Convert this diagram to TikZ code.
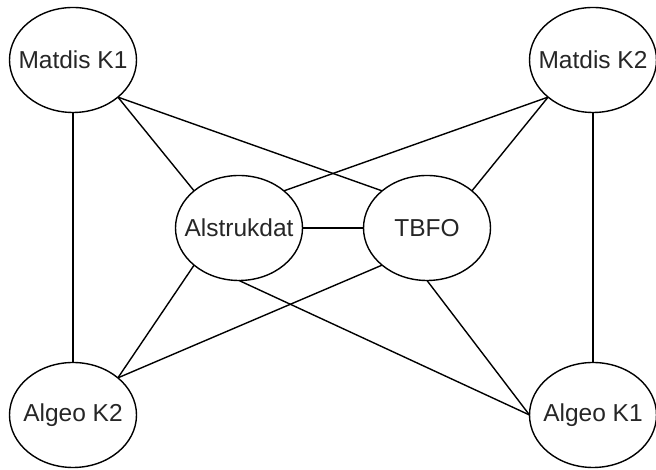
\documentclass[tikz,border=0pt]{standalone}
\usepackage{fontspec}
\setmainfont{Liberation Sans}
\usetikzlibrary{positioning,shapes.geometric}

\begin{document}
\begin{tikzpicture}[x=1pt,y=1pt,on grid,
    course/.style={ellipse,draw,line width=1.4pt,minimum width=127pt,minimum height=105pt,
        inner sep=0pt,outer sep=0pt,
        label={[font=\fontsize{24.5}{28}\selectfont,text=black!85]center:#1}}]
                \useasboundingbox (0,0) rectangle (656,470);
                \node[course=Matdis K1](mk1) at (73,410){};
                \node[course=Matdis K2](mk2)[right =520pt of mk1]{};
                \node[course=Algeo K2](ak2)[below =355pt of mk1]{};
                \node[course=Algeo K1](ak1)[below =355pt of mk2]{};
                \node[course=Alstrukdat](al)[below right =168pt and 166pt of mk1]{};
                \node[course=TBFO](tb)[right =188pt of al]{};
                \path[-,line width=1.4pt](mk1.south) edge node{}(ak2.north)
                        (mk1.south east) edge node{}(al.north west)
                            edge node{}(tb.north west)
                        (mk2.south) edge node{}(ak1.north)
                        (mk2.south west) edge node{}(al.north east)
                            edge node{}(tb.north east)
                        (al.east) edge node{}(tb.west)
                        (al.south west) edge node{}(ak2.north east)
                        (tb.south west) edge node{}(ak2.north east)
                        (al.south) edge node{}(ak1.west)
                        (tb.south) edge node{}(ak1.west);
            \end{tikzpicture}
\end{document}
